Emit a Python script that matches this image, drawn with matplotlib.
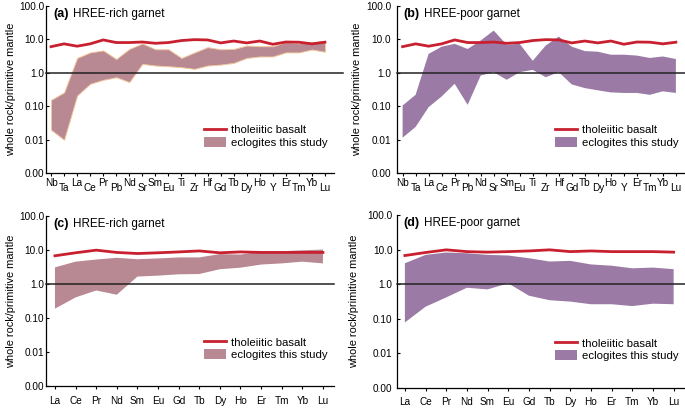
import matplotlib
matplotlib.use("Agg")
import numpy as np
from matplotlib import pyplot as plt
from matplotlib.patches import Patch
from matplotlib.lines import Line2D

plt.rcParams['font.family'] = ['Liberation Sans', 'DejaVu Sans']

# element lists
SPIDER = ["Nb", "Ta", "La", "Ce", "Pr", "Pb", "Nd", "Sr", "Sm", "Eu", "Ti",
          "Zr", "Hf", "Gd", "Tb", "Dy", "Ho", "Y", "Er", "Tm", "Yb", "Lu"]
REE = ["La", "Ce", "Pr", "Nd", "Sm", "Eu", "Gd", "Tb", "Dy", "Ho", "Er",
       "Tm", "Yb", "Lu"]

# tholeiitic basalt (normalised)
basalt_spider = [6.1, 7.4, 6.3, 7.4, 9.7, 8.1, 8.1, 8.4, 7.7, 8.1, 9.3,
                 9.9, 9.7, 7.9, 9.0, 7.9, 9.0, 7.2, 8.4, 8.3, 7.4, 8.3]
basalt_ree_c = [6.7, 8.2, 9.8, 8.4, 7.8, 8.2, 8.7, 9.3, 8.2, 8.7, 8.4,
                8.4, 8.4, 8.4]
basalt_ree_d = [6.7, 8.2, 9.8, 8.7, 8.4, 8.7, 9.1, 9.8, 8.7, 9.1, 8.7,
                8.7, 8.7, 8.4]

# (a) HREE-rich garnet, spider range
a_hi = [0.155, 0.26, 2.8, 4.1, 4.7, 2.6, 5.2, 7.6, 5.1, 5.1, 2.8,
        4.1, 5.9, 5.1, 5.2, 6.6, 6.3, 6.3, 8.3, 7.7, 8.3, 8.9]
a_lo = [0.0197, 0.0099, 0.21, 0.47, 0.62, 0.74, 0.53, 1.86, 1.66, 1.58, 1.48,
        1.32, 1.66, 1.77, 1.99, 2.8, 3.1, 3.1, 4.1, 4.1, 5.0, 4.3]

# (b) HREE-poor garnet, spider range
b_hi = [0.105, 0.22, 3.7, 6.1, 7.4, 5.2, 9.3, 18.5, 7.0, 7.4, 2.3,
        6.6, 12.2, 6.1, 4.5, 4.3, 3.5, 3.5, 3.3, 2.8, 3.1, 2.6]
b_lo = [0.0114, 0.024, 0.094, 0.196, 0.47, 0.11, 0.83, 1.05, 0.62, 1.05, 1.23,
        0.74, 1.05, 0.45, 0.35, 0.30, 0.26, 0.25, 0.25, 0.22, 0.28, 0.25]

# (c) HREE-rich garnet, REE range
c_hi = [3.06, 4.5, 5.2, 5.85, 5.3, 5.6, 6.0, 6.0, 7.5, 7.3, 8.7, 9.1, 9.7, 10.2]
c_lo = [0.187, 0.40, 0.64, 0.48, 1.64, 1.75, 1.91, 1.95, 2.7, 2.99, 3.7, 4.0,
        4.5, 4.0]

# (d) HREE-poor garnet, REE range
d_hi = [4.0, 7.0, 8.2, 7.8, 7.0, 6.7, 5.6, 4.5, 4.7, 3.7, 3.4, 2.86, 3.0, 2.7]
d_lo = [0.077, 0.22, 0.41, 0.78, 0.70, 1.05, 0.46, 0.34, 0.31, 0.26, 0.26,
        0.23, 0.27, 0.26]

RED = "#c8202f"
ROSE = "#b88893"
PURPLE = "#9b7ba6"
YTICKS = [0.001, 0.01, 0.1, 1, 10, 100]
YLABELS = ["0.00", "0.01", "0.10", "1.0", "10.0", "100.0"]

fig = plt.figure(figsize=(6.85, 4.08), dpi=100, facecolor="white")


def panel(rect, elements, basalt, lo, hi, color, tag, title, xlim,
          stagger=False, edge="none", hline_ext=1.0, ypad=1.0, lpad=2):
    ax = fig.add_axes(rect)
    x = np.arange(len(elements))
    ax.fill_between(x, lo, hi, facecolor=color, edgecolor=edge, linewidth=0.7,
                    zorder=2)
    ax.plot(x, basalt, color=RED, lw=2.0, zorder=3)
    ax.axhline(1.0, xmin=0, xmax=hline_ext, color="#222222", lw=1.1,
               zorder=4, clip_on=False)
    ax.set_yscale("log")
    ax.set_ylim(0.001, 100)
    ax.set_xlim(*xlim)
    ax.set_yticks(YTICKS)
    ax.set_yticklabels(YLABELS)
    ax.minorticks_off()
    ax.set_xticks(x)
    ax.set_xticklabels(elements)
    for s in ("top", "right"):
        ax.spines[s].set_visible(False)
    for s in ("left", "bottom"):
        ax.spines[s].set_linewidth(0.9)
    ax.tick_params(axis="y", labelsize=7.2, length=2, width=0.8,
                   direction="in", pad=ypad)
    if stagger:
        ax.tick_params(axis="x", labelsize=7.2, length=2.5, width=0.8, pad=1.2)
        for t in ax.xaxis.get_major_ticks()[1::2]:
            t.set_pad(4.8)
    else:
        ax.tick_params(axis="x", labelsize=7.2, length=2.5, width=0.8, pad=4.5)
    ax.set_ylabel("whole rock/primitive mantle", fontsize=7.9, labelpad=lpad)
    ax.text(0.025, 0.952, tag, transform=ax.transAxes, fontsize=9,
            fontweight="bold", va="center", ha="left")
    ax.text(0.094, 0.952, title, transform=ax.transAxes, fontsize=8.4,
            va="center", ha="left")
    handles = [Line2D([], [], color=RED, lw=2.0),
               Patch(facecolor=color, edgecolor="none")]
    ax.legend(handles, ["tholeiitic basalt", "eclogites this study"],
              loc="center right", bbox_to_anchor=(1.0, 0.22), frameon=False,
              fontsize=8.2, handlelength=1.9, handleheight=0.95,
              handletextpad=0.4, labelspacing=0.15, borderaxespad=0.2)
    return ax


panel([0.0667, 0.576, 0.421, 0.409], SPIDER, basalt_spider, a_lo, a_hi, ROSE,
      "(a)", "HREE-rich garnet", (-0.41, 21.7), stagger=True,
      edge="#f2c89c", hline_ext=1.03)
panel([0.579, 0.576, 0.421, 0.409], SPIDER, basalt_spider, b_lo, b_hi, PURPLE,
      "(b)", "HREE-poor garnet", (-0.46, 21.7), stagger=True,
      ypad=4, lpad=3)
panel([0.0667, 0.054, 0.421, 0.417], REE, basalt_ree_c, c_lo, c_hi, ROSE,
      "(c)", "HREE-rich garnet", (-0.45, 13.54))
panel([0.579, 0.05, 0.421, 0.423], REE, basalt_ree_d, d_lo, d_hi, PURPLE,
      "(d)", "HREE-poor garnet", (-0.4, 13.55), ypad=3, lpad=6)

fig.savefig("out.png", dpi=100, facecolor="white")
